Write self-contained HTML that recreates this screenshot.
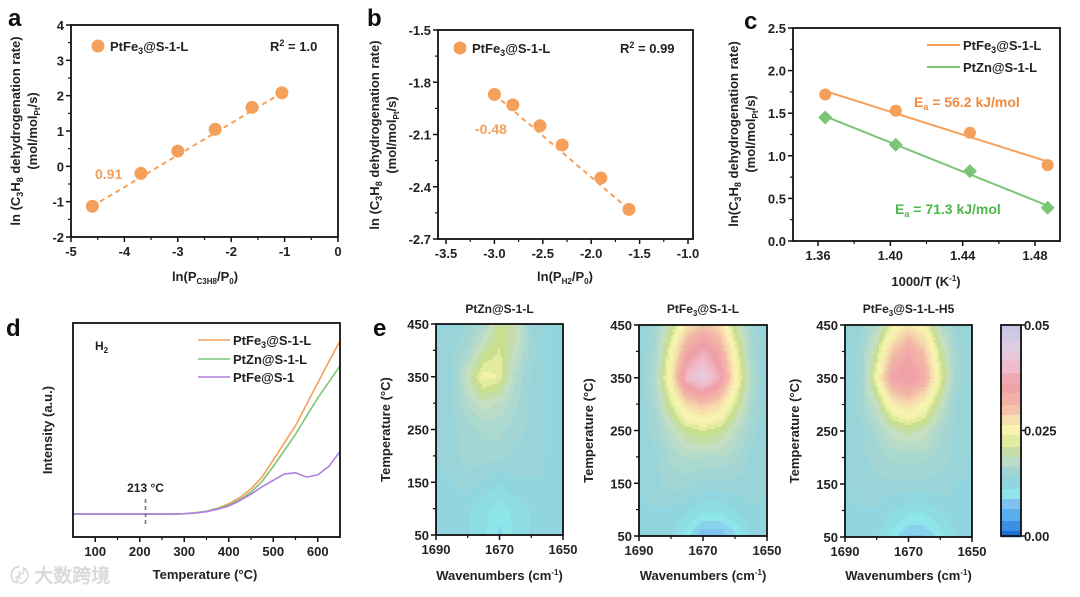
<!DOCTYPE html>
<html><head><meta charset="utf-8"><style>
body{margin:0;background:#fff}
svg{display:block}
text{font-family:"Liberation Sans",Arial,sans-serif;font-weight:bold;fill:#222}
</style></head><body>
<svg id="fig" width="1080" height="597" viewBox="0 0 1080 597" xmlns="http://www.w3.org/2000/svg"></svg>
<script>
// ---- data ----
const aX=[-4.6,-3.69,-3.0,-2.3,-1.61,-1.05];
const aY=[-1.13,-0.2,0.43,1.05,1.67,2.08];
const aXTicks=[-5,-4,-3,-2,-1,0];
const aYTicks=[-2,-1,0,1,2,3,4];
const bX=[-3.0,-2.81,-2.53,-2.3,-1.9,-1.61];
const bY=[-1.87,-1.93,-2.05,-2.16,-2.35,-2.53];
const bXTicks=[-3.5,-3.0,-2.5,-2.0,-1.5,-1.0];
const bYTicks=[-2.7,-2.4,-2.1,-1.8,-1.5];
const cX=[1.364,1.403,1.444,1.487];
const cFe=[1.72,1.53,1.27,0.89];
const cZn=[1.45,1.13,0.82,0.39];
const cXTicks=[1.36,1.40,1.44,1.48];
const cYTicks=[0,0.5,1.0,1.5,2.0,2.5];
const dT=[50,100,150,200,250,275,300,325,350,375,400,425,450,475,500,525,550,575,600,625,650];
const dFe3=[0.107,0.107,0.107,0.107,0.107,0.107,0.109,0.113,0.12,0.135,0.155,0.185,0.225,0.28,0.36,0.44,0.52,0.62,0.72,0.82,0.916];
const dZn=[0.107,0.107,0.107,0.107,0.107,0.107,0.109,0.113,0.12,0.133,0.15,0.175,0.21,0.26,0.33,0.405,0.48,0.565,0.65,0.725,0.80];
const dFe=[0.107,0.107,0.107,0.107,0.107,0.107,0.109,0.112,0.118,0.13,0.145,0.17,0.2,0.235,0.265,0.295,0.30,0.28,0.29,0.33,0.40];
const dXTicks=[100,200,300,400,500,600];
const eWn=[1690,1685,1680,1675,1670,1665,1660,1655,1650];
const eT=[450,400,350,300,250,200,150,100,50];
const eZn=[[13,13,14,16,21,20,14,13,13],[13,14,16,20,22,19,15,13,13],[13,14,19,24,23,17,14,13,13],[13,14,17,19,18,16,14,13,13],[13,14,15,16,16,15,14,13,13],[13,14,15,15,15,14,14,13,13],[13,13,14,13,12,13,13,13,13],[13,13,12,11,10,11,12,13,13],[13,13,12,11,9,11,12,13,13]];
const eFe3=[[13,15,20,27,30,28,20,15,13],[13,16,24,34,38,34,24,16,13],[13,17,26,40,44,38,26,17,13],[13,16,22,28,30,28,22,16,13],[13,15,18,21,22,21,18,15,13],[13,14,16,17,17,17,16,14,13],[13,14,15,15,14,14,14,14,13],[13,13,13,12,11,11,12,13,13],[13,13,12,10,7,7,9,12,13]];
const eH5=[[13,14,17,23,27,24,17,14,13],[13,15,21,30,34,30,21,15,13],[13,15,24,35,37,33,23,15,13],[13,15,19,26,28,25,19,14,13],[13,14,16,19,20,19,16,14,13],[13,14,15,16,16,16,15,14,13],[13,14,14,14,14,14,14,13,13],[13,13,13,12,11,11,12,13,13],[13,13,12,10,8,8,10,12,13]];
const eXTicks=[1690,1670,1650];
const eYTicks=[50,150,250,350,450];
const cmapStops=[[0,'#1f6fd6'],[4,'#4aa6ec'],[8,'#86c6f0'],[10,'#8fe6ea'],[11.5,'#8edbe4'],[13,'#93d3dc'],[16,'#a9d8d0'],[19,'#c8e0c2'],[21,'#c2dc8c'],[23,'#eef0a8'],[25,'#f8f4b0'],[28,'#f6dcae'],[31,'#f3b8a8'],[36,'#ef9ea6'],[40,'#f0bccb'],[44,'#e2cde2'],[50,'#c7c6e6']];

const S=document.getElementById('fig');
const NS='http://www.w3.org/2000/svg';
function el(tag,attrs,parent){const e=document.createElementNS(NS,tag);for(const k in attrs)e.setAttribute(k,attrs[k]);(parent||S).appendChild(e);return e;}
function txt(x,y,s,opt,parent){opt=opt||{};const t=el('text',{x:x,y:y,'font-size':opt.fs||13,'text-anchor':opt.anchor||'middle'},parent);if(opt.fill)t.style.fill=opt.fill;if(opt.rot)t.setAttribute('transform','rotate(-90 '+x+' '+y+')');t.innerHTML=s;return t;}
function lin(d0,d1,r0,r1){return v=>r0+(v-d0)*(r1-r0)/(d1-d0);}
function frame(g,L,T,R,B){el('rect',{x:L,y:T,width:R-L,height:B-T,fill:'none',stroke:'#111','stroke-width':1.8},g);}
function xticks(g,ticks,sx,B,fmt,minor){ticks.forEach((v,i)=>{const x=sx(v);el('line',{x1:x,x2:x,y1:B,y2:B+5,stroke:'#111','stroke-width':1.5},g);const t=txt(x,B+19,fmt(v),{fs:13},g);if(minor&&i<ticks.length-1){const xm=sx((v+ticks[i+1])/2);el('line',{x1:xm,x2:xm,y1:B,y2:B+3,stroke:'#111','stroke-width':1.2},g);}});}
function yticks(g,ticks,sy,L,fmt,minor){ticks.forEach((v,i)=>{const y=sy(v);el('line',{x1:L-5,x2:L,y1:y,y2:y,stroke:'#111','stroke-width':1.5},g);const t=txt(L-7,y+5,fmt(v),{fs:13,anchor:'end'},g);if(minor&&i<ticks.length-1){const ym=sy((v+ticks[i+1])/2);el('line',{x1:L-3,x2:L,y1:ym,y2:ym,stroke:'#111','stroke-width':1.2},g);}});}
const OR='#f5a05a', GR='#7cc576', PU='#b27ee2';
function grp(name){const g=el('g',{});return g;}

// ---- panel a ----
(function(){const g=grp('panel-a');const L=71,T=25,R=338,B=237;
const sx=lin(-5,0,L,R), sy=lin(-2,4,B,T);
xticks(g,aXTicks,sx,B,v=>v,true);yticks(g,aYTicks,sy,L,v=>v,true);
const fit=el('line',{x1:sx(aX[0]),y1:sy(aY[0]),x2:sx(aX[5]),y2:sy(aY[5]),stroke:OR,'stroke-width':2,'stroke-dasharray':'5,4'},g);

aX.forEach((x,i)=>{const c=el('circle',{cx:sx(x),cy:sy(aY[i]),r:6.5,fill:OR},g);});
frame(g,L,T,R,B);
el('circle',{cx:98,cy:46,r:6.5,fill:OR},g);
txt(110,51,'PtFe<tspan font-size="9" dy="3">3</tspan><tspan dy="-3">@S-1-L</tspan>',{anchor:'start'},g);
txt(270,51,'R<tspan font-size="9" dy="-5">2</tspan><tspan dy="5"> = 1.0</tspan>',{anchor:'start'},g);
txt(95,179,'0.91',{anchor:'start',fill:OR,fs:14},g);
txt(20,131,'ln (C<tspan font-size="9" dy="3">3</tspan><tspan dy="-3">H</tspan><tspan font-size="9" dy="3">8</tspan><tspan dy="-3"> dehydrogenation rate)</tspan>',{rot:1,fs:13},g);
txt(37,131,'(mol/mol<tspan font-size="8" dy="3">Pt</tspan><tspan dy="-3">/s)</tspan>',{rot:1,fs:13},g);
txt(205,281,'ln(P<tspan font-size="8" dy="3">C3H8</tspan><tspan dy="-3">/P</tspan><tspan font-size="8" dy="3">0</tspan><tspan dy="-3">)</tspan>',{fs:13},g);
txt(8,26,'a',{anchor:'start',fs:24,fill:'#111'},g);
})();

// ---- panel b ----
(function(){const g=grp('panel-b');const L=438,T=30,R=693,B=239;
const sx=lin(-3.5,-1.0,446,688), sy=lin(-2.7,-1.5,B,T);
xticks(g,bXTicks,sx,B,v=>v.toFixed(1),true);yticks(g,bYTicks,sy,L,v=>v.toFixed(1),true);
const fit=el('line',{x1:sx(bX[0]),y1:sy(bY[0]),x2:sx(bX[5]),y2:sy(bY[5]),stroke:OR,'stroke-width':2,'stroke-dasharray':'5,4'},g);

bX.forEach((x,i)=>{const c=el('circle',{cx:sx(x),cy:sy(bY[i]),r:6.5,fill:OR},g);});
frame(g,L,T,R,B);
el('circle',{cx:460,cy:48,r:6.5,fill:OR},g);
txt(472,53,'PtFe<tspan font-size="9" dy="3">3</tspan><tspan dy="-3">@S-1-L</tspan>',{anchor:'start'},g);
txt(620,53,'R<tspan font-size="9" dy="-5">2</tspan><tspan dy="5"> = 0.99</tspan>',{anchor:'start'},g);
txt(475,134,'-0.48',{anchor:'start',fill:OR,fs:14},g);
txt(379,135,'ln (C<tspan font-size="9" dy="3">3</tspan><tspan dy="-3">H</tspan><tspan font-size="9" dy="3">8</tspan><tspan dy="-3"> dehydrogenation rate)</tspan>',{rot:1,fs:13},g);
txt(396,135,'(mol/mol<tspan font-size="8" dy="3">Pt</tspan><tspan dy="-3">/s)</tspan>',{rot:1,fs:13},g);
txt(565,281,'ln(P<tspan font-size="8" dy="3">H2</tspan><tspan dy="-3">/P</tspan><tspan font-size="8" dy="3">0</tspan><tspan dy="-3">)</tspan>',{fs:13},g);
txt(367,26,'b',{anchor:'start',fs:24,fill:'#111'},g);
})();

// ---- panel c ----
(function(){const g=grp('panel-c');const L=793,T=28,R=1060,B=241;
const sx=lin(1.36,1.48,818,1035), sy=lin(0,2.5,B,T);
xticks(g,cXTicks,sx,B,v=>v.toFixed(2),true);yticks(g,cYTicks,sy,L,v=>v.toFixed(1),true);
function fit(ys){const n=cX.length;const mx=cX.reduce((a,b)=>a+b)/n,my=ys.reduce((a,b)=>a+b)/n;let num=0,den=0;cX.forEach((x,i)=>{num+=(x-mx)*(ys[i]-my);den+=(x-mx)*(x-mx);});const k=num/den;return x=>my+k*(x-mx);}
const fFe=fit(cFe), fZn=fit(cZn);
const l1=el('line',{x1:sx(cX[0]),y1:sy(fFe(cX[0])),x2:sx(cX[3]),y2:sy(fFe(cX[3])),stroke:OR,'stroke-width':2},g);
const l2=el('line',{x1:sx(cX[0]),y1:sy(fZn(cX[0])),x2:sx(cX[3]),y2:sy(fZn(cX[3])),stroke:GR,'stroke-width':2},g);
cX.forEach((x,i)=>{const c=el('circle',{cx:sx(x),cy:sy(cFe[i]),r:6,fill:OR},g);
const px=sx(x),py=sy(cZn[i]);const d=el('polygon',{points:(px)+','+(py-7)+' '+(px+7)+','+py+' '+px+','+(py+7)+' '+(px-7)+','+py,fill:GR},g);});
frame(g,L,T,R,B);
el('line',{x1:927,x2:960,y1:45,y2:45,stroke:OR,'stroke-width':2},g);
txt(963,50,'PtFe<tspan font-size="9" dy="3">3</tspan><tspan dy="-3">@S-1-L</tspan>',{anchor:'start'},g);
el('line',{x1:927,x2:960,y1:67,y2:67,stroke:GR,'stroke-width':2},g);
txt(963,72,'PtZn@S-1-L',{anchor:'start'},g);
txt(914,107,'E<tspan font-size="9" dy="3">a</tspan><tspan dy="-3"> = 56.2 kJ/mol</tspan>',{anchor:'start',fill:'#f08a3c',fs:14},g);
txt(895,214,'E<tspan font-size="9" dy="3">a</tspan><tspan dy="-3"> = 71.3 kJ/mol</tspan>',{anchor:'start',fill:'#4cb848',fs:14},g);
txt(738,134,'ln(C<tspan font-size="9" dy="3">3</tspan><tspan dy="-3">H</tspan><tspan font-size="9" dy="3">8</tspan><tspan dy="-3"> dehydrogenation rate)</tspan>',{rot:1,fs:13},g);
txt(755,134,'(mol/mol<tspan font-size="8" dy="3">Pt</tspan><tspan dy="-3">/s)</tspan>',{rot:1,fs:13},g);
txt(926,286,'1000/T (K<tspan font-size="8" dy="-5">-1</tspan><tspan dy="5">)</tspan>',{fs:13},g);
txt(744,29,'c',{anchor:'start',fs:24,fill:'#111'},g);
})();

// ---- panel d ----
(function(){const g=grp('panel-d');const L=73,T=323,R=340,B=537;
const sx=lin(50,650,L,R), sy=lin(0,1,B,T);
xticks(g,dXTicks,sx,B,v=>v,true);
function path(ys,col,name){const p=el('path',{d:dT.map((t,i)=>(i?'L':'M')+sx(t).toFixed(1)+','+sy(ys[i]).toFixed(1)).join(''),fill:'none',stroke:col,'stroke-width':1.6,'stroke-linejoin':'round'},g);}
path(dFe3,OR,'line-ptfe3');path(dZn,GR,'line-ptzn');path(dFe,PU,'line-ptfe');
el('line',{x1:sx(213),x2:sx(213),y1:499,y2:527,stroke:'#777','stroke-width':1.6,'stroke-dasharray':'4,3'},g);
txt(sx(213),492,'213 °C',{fs:12},g);
frame(g,L,T,R,B);
txt(95,350,'H<tspan font-size="8" dy="3">2</tspan>',{anchor:'start',fs:12},g);
[[OR,'PtFe<tspan font-size="9" dy="3">3</tspan><tspan dy="-3">@S-1-L</tspan>',340],[GR,'PtZn@S-1-L',359],[PU,'PtFe@S-1',377]].forEach(e=>{el('line',{x1:198,x2:230,y1:e[2],y2:e[2],stroke:e[0],'stroke-width':1.6},g);txt(233,e[2]+5,e[1],{anchor:'start'},g);});
txt(52,430,'Intensity (a.u.)',{rot:1,fs:13},g);
txt(205,579,'Temperature (°C)',{fs:13},g);
txt(6,336,'d',{anchor:'start',fs:24,fill:'#111'},g);
})();

// ---- panel e ----
function hex(c){return[parseInt(c.substr(1,2),16),parseInt(c.substr(3,2),16),parseInt(c.substr(5,2),16)];}
function cmap(v){v=Math.max(0,Math.min(50,v));for(let i=0;i<cmapStops.length-1;i++){const a=cmapStops[i],b=cmapStops[i+1];if(v<=b[0]){const f=(v-a[0])/(b[0]-a[0]);const ca=hex(a[1]),cb=hex(b[1]);return 'rgb('+ca.map((c,k)=>Math.round(c+(cb[k]-c)*f)).join(',')+')';}}return cmapStops[cmapStops.length-1][1];}
function heat(grid,L,T,R,B,title,name){
const g=grp(name);
const sx=lin(1690,1650,L,R), sy=lin(50,450,B,T);
const st=2;
for(let y=T;y<B;y+=st){for(let x=L;x<R;x+=st){
const fx=(x+st/2-L)/(R-L)*(eWn.length-1), fy=(y+st/2-T)/(B-T)*(eT.length-1);
const i0=Math.min(Math.floor(fx),eWn.length-2),j0=Math.min(Math.floor(fy),eT.length-2);const u=fx-i0,w=fy-j0;
const v=grid[j0][i0]*(1-u)*(1-w)+grid[j0][i0+1]*u*(1-w)+grid[j0+1][i0]*(1-u)*w+grid[j0+1][i0+1]*u*w;
const q=Math.round(v/1.25)*1.25;
const r=el('rect',{x:x,y:y,width:Math.min(st,R-x)+0.3,height:Math.min(st,B-y)+0.3,fill:cmap(q)},g);


}}
xticks(g,eXTicks,sx,B,v=>v,true);yticks(g,eYTicks,sy,L,v=>v,true);
frame(g,L,T,R,B);
txt((L+R)/2,313,title,{fs:12},g);
txt(L-46,(T+B)/2,'Temperature (°C)',{rot:1,fs:13},g);
txt((L+R)/2,580,'Wavenumbers (cm<tspan font-size="8" dy="-5">-1</tspan><tspan dy="5">)</tspan>',{fs:13},g);
}
heat(eZn,436,324,563,535,'PtZn@S-1-L','heatmap-ptzn');
heat(eFe3,639,325,767,536,'PtFe<tspan font-size="8" dy="3">3</tspan><tspan dy="-3">@S-1-L</tspan>','heatmap-ptfe3');
heat(eH5,845,325,972,537,'PtFe<tspan font-size="8" dy="3">3</tspan><tspan dy="-3">@S-1-L-H5</tspan>','heatmap-ptfe3-h5');
txt(373,336,'e',{anchor:'start',fs:24,fill:'#111'});
// colorbar
(function(){const g=grp('colorbar');const L=1001,R=1021,T=325,B=536;
for(let y=T;y<B;y+=2){const v=50*(B-y-1)/(B-T);const r=el('rect',{x:L,y:y,width:R-L,height:2.3,fill:cmap(Math.round(v/2.5)*2.5)},g);}
frame(g,L,T,R,B);
[[0.05,T],[0.025,(T+B)/2],[0,B]].forEach(e=>{el('line',{x1:R,x2:R+4,y1:e[1],y2:e[1],stroke:'#111','stroke-width':1.5},g);txt(R+3,e[1]+5,e[0]===0?'0.00':String(e[0]),{anchor:'start',fs:13},g);});
})();
// watermark
const wm=txt(10,582,'〄 大数跨境',{anchor:'start',fs:19,fill:'#dadada'});
wm.setAttribute('font-family','"Liberation Sans","Noto Sans CJK SC",sans-serif');


</script>
</body></html>
